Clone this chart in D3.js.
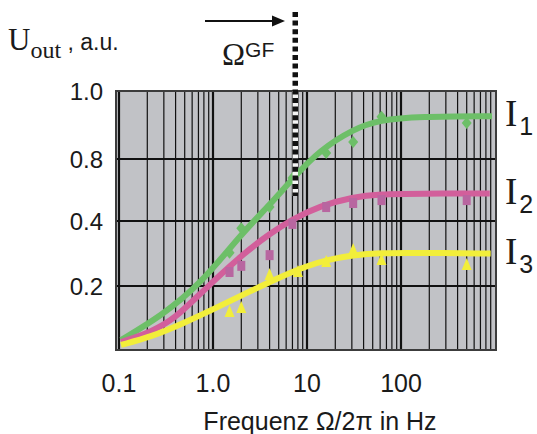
<!DOCTYPE html>
<html lang="de">
<head>
<meta charset="utf-8">
<script src="https://d3js.org/d3.v7.min.js"></script>
<style>
  body { margin: 0; background: #fff; }
  text { font-family: "Liberation Sans", Arial, sans-serif; fill: #1a1a1a; }
  .serif { font-family: "Liberation Serif", "Times New Roman", serif; }
</style>
</head>
<body>
<div id="chart"></div>
<script>

// tick labels
var xTicks = [0.1, 1, 10, 100];
var xTickLabels = ["0.1", "1.0", "10", "100"];
var yTicks = [0.2, 0.4, 0.8, 1.0];
var yTickLabels = ["0.2", "0.4", "0.8", "1.0"];
var omegaGF = 7.5;   // Hz, dotted line

// fitted curves: frequency (Hz) and U_out (a.u.)
var fitFreqI1 = [0.105, 0.28, 0.74, 1.95, 4.1, 7.1, 13.7, 31, 59, 157, 930];
var fitI1     = [0.031, 0.106, 0.206, 0.357, 0.51, 0.677, 0.826, 0.888, 0.915, 0.925, 0.926];
var fitFreqI2 = [0.105, 0.22, 0.40, 0.74, 1.95, 4.1, 7.1, 13.7, 31, 59, 157, 880];
var fitI2     = [0.025, 0.056, 0.1, 0.178, 0.292, 0.363, 0.413, 0.497, 0.555, 0.574, 0.577, 0.577];
var fitFreqI3 = [0.105, 0.22, 0.49, 1.12, 2.5, 5.2, 10, 16.3, 31, 59, 157, 900];
var fitI3     = [0.016, 0.041, 0.084, 0.134, 0.184, 0.228, 0.262, 0.28, 0.295, 0.302, 0.302, 0.3];

// measured points
var measFreqI1 = [1.5, 2, 4, 7, 16, 31, 62, 500];
var measI1     = [0.302, 0.378, 0.49, 0.677, 0.818, 0.85, 0.924, 0.906];
var measFreqI2 = [1.5, 2, 4, 7, 16, 31, 62, 500];
var measI2     = [0.243, 0.262, 0.295, 0.391, 0.49, 0.516, 0.535, 0.535];
var measFreqI3 = [1.5, 2, 4, 8, 16, 31, 62, 500];
var measI3     = [0.119, 0.131, 0.234, 0.243, 0.274, 0.311, 0.28, 0.265];

var colors = { I1: "#6dbf68", I2: "#d25f9b", I3: "#f2ee3a" };
var markerColors = { I1: "#6dbf68", I2: "#b866a0", I3: "#f2ee3a" };

var W = 537, H = 434;
var plot = { left: 116, right: 496, top: 91, bottom: 350 };

var svg = d3.select("#chart").append("svg")
  .attr("width", W).attr("height", H);

// log frequency axis
var x = d3.scaleLog().domain([0.1, 1000]).range([119, 495]);
// y grid is evenly spaced but labels are not: piecewise scale
var y = d3.scaleLinear()
  .domain([0, 0.2, 0.4, 0.8, 1.0])
  .range([350, 286, 221, 159, 91]);

// background
svg.append("rect")
  .attr("x", plot.left).attr("y", plot.top)
  .attr("width", plot.right - plot.left).attr("height", plot.bottom - plot.top)
  .attr("fill", "#c1c2c6");

// vertical grid (1..9 per decade)
var vLines = [];
[0.1, 1, 10, 100].forEach(function(d) {
  for (var k = 1; k <= 9; k++) vLines.push({ v: d * k, major: k === 1 });
});
svg.append("g").selectAll("line").data(vLines).enter().append("line")
  .attr("x1", function(d) { return x(d.v); })
  .attr("x2", function(d) { return x(d.v); })
  .attr("y1", plot.top).attr("y2", plot.bottom)
  .attr("stroke", "#111")
  .attr("stroke-width", function(d) { return d.major ? 2.2 : 1.2; });

// horizontal grid
svg.append("g").selectAll("line").data(yTicks.slice(0, 3)).enter().append("line")
  .attr("x1", plot.left).attr("x2", plot.right)
  .attr("y1", function(d) { return y(d); })
  .attr("y2", function(d) { return y(d); })
  .attr("stroke", "#111").attr("stroke-width", 2.2);

// frame
svg.append("rect")
  .attr("x", plot.left).attr("y", plot.top)
  .attr("width", plot.right - plot.left).attr("height", plot.bottom - plot.top)
  .attr("fill", "none").attr("stroke", "#3c3c3c").attr("stroke-width", 2);

// curves
var line = d3.line()
  .x(function(d) { return x(d[0]); })
  .y(function(d) { return y(d[1]); })
  .curve(d3.curveBasis);

[["I1", fitFreqI1, fitI1], ["I2", fitFreqI2, fitI2], ["I3", fitFreqI3, fitI3]].forEach(function(s) {
  svg.append("path")
    .datum(d3.zip(s[1], s[2]))
    .attr("d", line)
    .attr("fill", "none")
    .attr("stroke", colors[s[0]])
    .attr("stroke-width", 6);
});

// markers
var diamond = "M0,-6L5,0L0,6L-5,0Z";
var square = "M-4,-5L4,-5L4,5L-4,5Z";
var triangle = "M0,-7L5,5L-5,5Z";
[["I1", measFreqI1, measI1, diamond], ["I2", measFreqI2, measI2, square], ["I3", measFreqI3, measI3, triangle]].forEach(function(s) {
  svg.append("g").selectAll("path").data(d3.zip(s[1], s[2])).enter().append("path")
    .attr("d", s[3])
    .attr("transform", function(d) { return "translate(" + x(d[0]) + "," + y(d[1]) + ")"; })
    .attr("fill", markerColors[s[0]]);
});

// dotted line at Omega_GF
var gx = x(omegaGF);
svg.append("line")
  .attr("x1", gx).attr("x2", gx).attr("y1", plot.top).attr("y2", 196)
  .attr("stroke", "#f4f4f4").attr("stroke-width", 5.5);
svg.append("line")
  .attr("x1", gx).attr("x2", gx).attr("y1", 12).attr("y2", 196)
  .attr("stroke", "#111").attr("stroke-width", 5.5)
  .attr("stroke-dasharray", "5,3.6");

// arrow
svg.append("line")
  .attr("x1", 205).attr("x2", 275).attr("y1", 21).attr("y2", 21)
  .attr("stroke", "#111").attr("stroke-width", 2);
svg.append("path")
  .attr("d", "M285,21L272,15.5L272,26.5Z")
  .attr("fill", "#111");

// Omega^GF
var og = svg.append("text").attr("x", 222).attr("y", 65);
og.append("tspan").attr("class", "serif").style("font-size", "31px").text("Ω");
og.append("tspan").attr("dy", -8).style("font-size", "21px").text("GF");

// y axis title
var yt = svg.append("text").attr("x", 8).attr("y", 50);
yt.append("tspan").attr("class", "serif").style("font-size", "31px").text("U");
yt.append("tspan").attr("class", "serif").attr("dy", 8).style("font-size", "24px").text("out");
yt.append("tspan").attr("dy", -8).style("font-size", "23px").text(" , a.u.");

// y tick labels
svg.append("g").selectAll("text").data(yTicks).enter().append("text")
  .attr("x", 103)
  .attr("y", function(d) { return y(d); })
  .attr("dy", "0.36em")
  .attr("text-anchor", "end")
  .style("font-size", "24px")
  .text(function(d, i) { return yTickLabels[i]; });

// x tick labels
svg.append("g").selectAll("text").data(xTicks).enter().append("text")
  .attr("x", function(d) { return x(d); })
  .attr("y", 392)
  .attr("text-anchor", "middle")
  .style("font-size", "25px")
  .text(function(d, i) { return xTickLabels[i]; });

// x axis title
svg.append("text")
  .attr("x", 320).attr("y", 430)
  .attr("text-anchor", "middle")
  .style("font-size", "25px")
  .text("Frequenz Ω/2π in Hz");

// series labels
[["1", fitI1], ["2", fitI2], ["3", fitI3]].forEach(function(s) {
  var yy = y(s[1][s[1].length - 1]);
  var t = svg.append("text").attr("x", 505).attr("y", yy + 10);
  t.append("tspan").attr("class", "serif").style("font-size", "37px").text("I");
  t.append("tspan").attr("dx", 2).attr("dy", 9).style("font-size", "25px").text(s[0]);
});

</script>
</body>
</html>
